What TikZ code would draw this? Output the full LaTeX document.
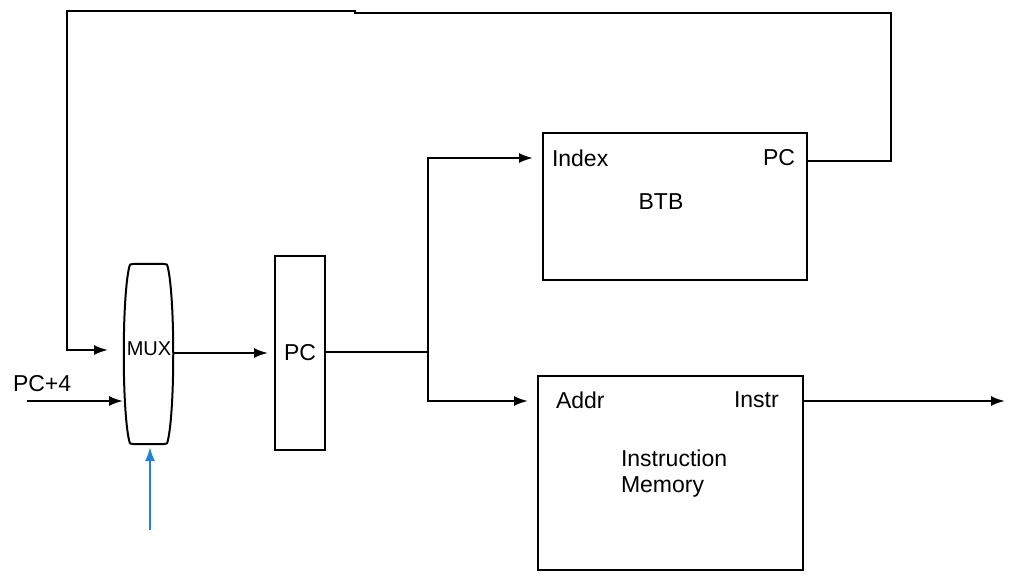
\documentclass[tikz,border=0pt]{standalone}
\usepackage{fontspec}
\setmainfont{Liberation Sans}
\usetikzlibrary{arrows.meta,positioning,calc}
\definecolor{selblue}{RGB}{36,129,209}

\begin{document}
\begin{tikzpicture}[x=0.5pt,y=-0.5pt,>={Latex[length=7pt,width=5pt]},line width=1pt]
		\tikzset{
			block/.style={draw,rectangle,inner sep=0pt,outer sep=0pt,align=center},
			lbl/.style={inner sep=0pt,anchor=west,font=\fontsize{11.5}{13}\selectfont},
			wire/.style={line join=miter}
		}
		\useasboundingbox (0,0) rectangle (1012,577);
		% blocks
		\node(mux)[block,draw=none,minimum width=24pt,minimum height=90pt] at (149,354) {};
		\draw (133,264) -- (164,264) .. controls (167,264) .. (168,268)
				.. controls (175,300) and (175,408) .. (168,440) .. controls (167,444) .. (164,444)
				-- (133,444) .. controls (130,444) .. (129,440)
				.. controls (122,408) and (122,300) .. (129,268) .. controls (130,264) .. (133,264) -- cycle;
		\node(muxtxt)[inner sep=0pt,font=\fontsize{10}{12}\selectfont] at (149,349) {MUX};
		\node(pc)[block,minimum width=25pt,minimum height=97pt,font=\fontsize{11.5}{13}\selectfont] at (300,353) {PC};
		\node(btb)[block,minimum width=132pt,minimum height=73.5pt] at (675,206.5) {};
		\node(imem)[block,minimum width=132.5pt,minimum height=97pt] at (670.5,473) {};
		% labels
		\node(idx)[lbl] at (551,158) {Index};
		\node(btbpc)[lbl] at (762,158) {PC};
		\node(btbname)[lbl,anchor=center] at (661,202) {BTB};
		\node(addr)[lbl] at (555,400) {Addr};
		\node(instr)[lbl] at (733,400) {Instr};
		\node(imname)[lbl,align=left] at (620,474) {Instruction\\Memory};
		\node(pc4)[lbl] at (12,384) {PC+4};
		% wire points
		\coordinate(jn) at (428,352);
		\coordinate(sel) at (150,530);
		\coordinate(out) at (1005,401);
		% connectors
		\draw[->,wire,shorten >=8.5pt] (btb.east |- 0,161) -| (891,13) -- (355,13) -- (355,11) -| (67,350) -- (mux.west |- 0,350);
		\draw[->,shorten >=1pt] (27,401) -- (mux.west |- 0,401);
		\draw[->,shorten >=3.5pt] (mux.east |- 0,353) -- (pc.west |- 0,353);
		\draw[wire] (pc.east |- jn) -- (jn);
		\draw[->,wire,shorten >=5pt] (jn) |- (btb.west |- idx);
		\draw[->,wire,shorten >=5pt] (jn) |- (imem.west |- 0,401);
		\draw[->] (imem.east |- 0,401) -- (out);
		\draw[->,selblue,shorten >=1.5pt] (sel) -- (mux.south -| sel);
\end{tikzpicture}
\end{document}
